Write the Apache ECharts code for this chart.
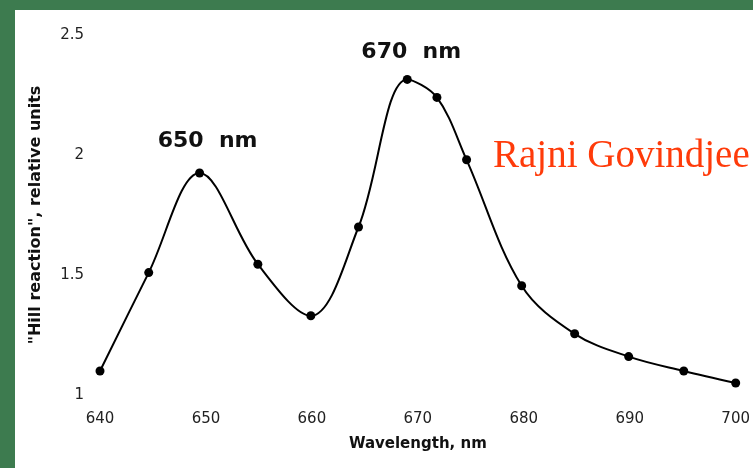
<!DOCTYPE html>
<html>
<head>
<meta charset="utf-8">
<script src="https://cdn.jsdelivr.net/npm/echarts@6/dist/echarts.min.js"></script>
<style>
  html, body { margin: 0; padding: 0; background: #3d7b4f; }
  #chart { width: 753px; height: 468px; }
</style>
</head>
<body>
<div id="chart"></div>
<script>
// wavelength (nm) and Hill reaction (relative units)
var wavelengths = [640, 644.6, 649.4, 654.9, 659.9, 664.4, 669.0, 671.8, 674.6, 679.8, 684.8, 689.9, 695.1, 700];
var hillValues  = [1.10, 1.51, 1.925, 1.545, 1.33, 1.70, 2.315, 2.24, 1.98, 1.455, 1.255, 1.16, 1.10, 1.05];

var xTicks = [640, 650, 660, 670, 680, 690, 700];
var yTicks = [1, 1.5, 2, 2.5];

var peakNames = ['650  nm', '670  nm'];
var peakIndex = [2, 6];

var chart = echarts.init(document.getElementById('chart'));

var points = [];
for (var i = 0; i < wavelengths.length; i++) {
  points.push([wavelengths[i], hillValues[i]]);
}

// peak labels sit above the peak points
var labelOffsets = [[8, -32], [4, -27]];
var peaks = [];
for (var j = 0; j < peakIndex.length; j++) {
  var k = peakIndex[j];
  peaks.push({
    name: peakNames[j],
    coord: [wavelengths[k], hillValues[k]],
    label: { offset: labelOffsets[j] }
  });
}

var option = {
  backgroundColor: '#3d7b4f',
  animation: false,
  graphic: [
    {
      type: 'rect',
      z: -10,
      shape: { x: 15, y: 10, width: 760, height: 470 },
      style: { fill: '#ffffff' }
    },
    {
      type: 'text',
      left: 493,
      top: 137,
      style: {
        text: 'Rajni Govindjee',
        fill: '#ff3b0a',
        font: '39px "Liberation Serif", serif'
      }
    }
  ],
  grid: { left: 100, right: 16, top: 35, bottom: 73 },
  xAxis: {
    type: 'value',
    min: xTicks[0],
    max: xTicks[xTicks.length - 1],
    interval: 10,
    name: 'Wavelength, nm',
    nameLocation: 'middle',
    nameGap: 42,
    nameTextStyle: { fontFamily: 'DejaVu Sans', fontWeight: 'bold', fontSize: 15, color: '#111' },
    axisLine: { show: false },
    axisTick: { show: false },
    splitLine: { show: false },
    axisLabel: { margin: 17, fontFamily: 'DejaVu Sans', fontSize: 15, color: '#222' }
  },
  yAxis: {
    type: 'value',
    min: yTicks[0],
    max: yTicks[yTicks.length - 1],
    interval: 0.5,
    name: '"Hill reaction", relative units',
    nameLocation: 'middle',
    nameGap: 56,
    nameTextStyle: { fontFamily: 'DejaVu Sans', fontWeight: 'bold', fontSize: 16, color: '#111' },
    axisLine: { show: false },
    axisTick: { show: false },
    splitLine: { show: false },
    axisLabel: { margin: 16, fontFamily: 'DejaVu Sans', fontSize: 15, color: '#222' }
  },
  series: [
    {
      type: 'line',
      data: points,
      smooth: 0.35,
      symbol: 'circle',
      symbolSize: 9,
      lineStyle: { color: '#000', width: 2 },
      itemStyle: { color: '#000' },
      markPoint: {
        symbol: 'circle',
        symbolSize: 0,
        label: {
          show: true,
          position: 'inside',
          formatter: '{b}',
          fontFamily: 'DejaVu Sans',
          fontWeight: 'bold',
          fontSize: 22,
          color: '#111'
        },
        data: peaks
      }
    }
  ]
};

chart.setOption(option);
</script>
</body>
</html>
